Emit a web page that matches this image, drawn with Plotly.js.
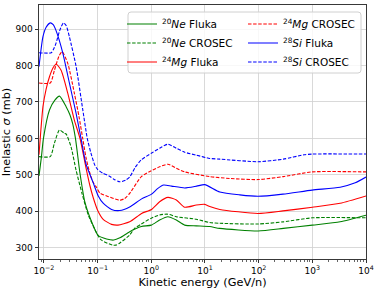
<!DOCTYPE html>
<html>
<head>
<meta charset="utf-8">
<script src="https://cdn.plot.ly/plotly-3.0.1.min.js"></script>
<style>html,body{margin:0;padding:0;background:#fff;}#chart{width:379px;height:295px;}</style>
</head>
<body>
<div id="chart"></div>
<script>
// ---- data (kinetic energy in GeV/n, inelastic cross section in mb) ----
const neFlukaE = [0.0081, 0.009, 0.0098, 0.0127, 0.016, 0.0195, 0.0259, 0.0305, 0.0344, 0.0387, 0.0469, 0.058, 0.078, 0.103, 0.147, 0.2, 0.26, 0.396, 0.653, 1.0, 1.43, 2.04, 2.93, 4.2, 6.9, 12.3, 18.9, 98, 288, 1000, 3300, 10000];
const neFlukaS = [497, 550, 600, 678, 705, 716, 687, 665, 640, 600, 505, 425, 370, 333, 324, 321, 327, 344, 358, 362, 376, 385, 376, 362, 360, 358, 353, 346, 353, 362, 371, 389];

const neCrosecE = [0.0081, 0.0131, 0.0157, 0.0195, 0.024, 0.0259, 0.032, 0.0397, 0.051, 0.067, 0.089, 0.115, 0.19, 0.22, 0.26, 0.396, 0.49, 0.653, 1.0, 1.43, 2.04, 2.93, 6.9, 12.3, 18.9, 98, 288, 1000, 10000];
const neCrosecS = [550, 550, 587, 623, 614, 612, 577, 513, 450, 390, 350, 322, 307, 307, 313, 335, 353, 365, 381, 390, 392, 385, 378, 369, 367, 365, 371, 382, 382];

const mgFlukaE = [0.0081, 0.0088, 0.0096, 0.011, 0.0127, 0.015, 0.0169, 0.0209, 0.0278, 0.0369, 0.047, 0.0607, 0.072, 0.083, 0.1, 0.127, 0.182, 0.24, 0.396, 0.66, 1.01, 1.43, 2.04, 2.93, 4.2, 6.9, 9.9, 12.3, 18.9, 97, 284, 1000, 3300, 10000];
const mgFlukaS = [555, 625, 687, 735, 769, 795, 804, 787, 724, 650, 600, 520, 470, 437, 403, 378, 364, 362, 371, 394, 405, 426, 438, 431, 411, 417, 419, 413, 405, 394, 401, 411, 422, 442];

const mgCrosecE = [0.0081, 0.0131, 0.0157, 0.019, 0.0218, 0.0278, 0.0369, 0.045, 0.0528, 0.0607, 0.07, 0.0808, 0.096, 0.11, 0.16, 0.22, 0.26, 0.32, 0.396, 0.653, 1.0, 1.43, 2.04, 2.93, 4.2, 12.3, 29, 98, 288, 1000, 10000];
const mgCrosecS = [752, 752, 787, 825, 838, 806, 724, 660, 600, 548, 510, 482, 465, 450, 440, 433, 430, 435, 449, 495, 511, 522, 529, 518, 508, 495, 490, 487, 495, 508, 508];

const siFlukaE = [0.0081, 0.0096, 0.011, 0.0131, 0.0149, 0.0169, 0.0225, 0.0298, 0.0397, 0.049, 0.0607, 0.083, 0.103, 0.127, 0.182, 0.259, 0.396, 0.66, 1.01, 1.31, 1.70, 2.39, 4.19, 7.0, 9.9, 18.9, 44.7, 97, 284, 991, 3300, 6300, 10000];
const siFlukaS = [797, 879, 905, 917, 912, 895, 834, 752, 669, 601, 530, 478, 442, 422, 405, 402, 412, 434, 447, 462, 472, 469, 464, 469, 473, 453, 445, 441, 447, 458, 466, 478, 494];

const siCrosecE = [0.0081, 0.0137, 0.0155, 0.0169, 0.0196, 0.0231, 0.0259, 0.0298, 0.0397, 0.0528, 0.0642, 0.075, 0.088, 0.1, 0.124, 0.164, 0.2, 0.26, 0.33, 0.4, 0.5, 0.65, 1.0, 1.43, 2.04, 2.93, 4.2, 6.9, 12.3, 19, 98, 288, 700, 1000, 10000];
const siCrosecS = [835, 835, 848, 862, 895, 917, 910, 879, 798, 680, 600, 560, 528, 515, 505, 497, 488, 481, 485, 495, 520, 541, 559, 573, 584, 573, 562, 554, 545, 543, 536, 543, 555, 557, 557];

const seriesNames = ['<sup>20</sup><i>Ne</i> Fluka', '<sup>20</sup><i>Ne</i> CROSEC', '<sup>24</sup><i>Mg</i> Fluka',
                     '<sup>24</sup><i>Mg</i> CROSEC', '<sup>28</sup><i>Si</i> Fluka', '<sup>28</sup><i>Si</i> CROSEC'];
const xTickVals = [0.01, 0.1, 1, 10, 100, 1000, 10000];
const xTickText = ['10<sup>\u22122</sup>', '10<sup>\u22121</sup>', '10<sup>0</sup>', '10<sup>1</sup>', '10<sup>2</sup>', '10<sup>3</sup>', '10<sup>4</sup>'];

// ---- styling ----
const FONT = 'DejaVu Sans';
const GREEN = '#008000', RED = '#ff0000', BLUE = '#0000ff';
const DASH = '3.5px,1.6px';
function tr(x, y, name, color, dash, legend) {
  return {x: x, y: y, name: name, type: 'scatter', mode: 'lines',
          line: {color: color, width: 1.1, dash: dash, shape: 'spline', smoothing: 0.6},
          legend: legend, hoverinfo: 'skip'};
}
const data = [
  tr(neFlukaE, neFlukaS, seriesNames[0], GREEN, 'solid', 'legend'),
  tr(neCrosecE, neCrosecS, seriesNames[1], GREEN, DASH, 'legend'),
  tr(mgFlukaE, mgFlukaS, seriesNames[2], RED, 'solid', 'legend'),
  tr(mgCrosecE, mgCrosecS, seriesNames[3], RED, DASH, 'legend2'),
  tr(siFlukaE, siFlukaS, seriesNames[4], BLUE, 'solid', 'legend2'),
  tr(siCrosecE, siCrosecS, seriesNames[5], BLUE, DASH, 'legend2')
];

// minor tick positions 2..9 within each decade
const minorVals = [];
for (let d = -3; d < 4; d++) for (let m = 2; m <= 9; m++) minorVals.push(m * Math.pow(10, d));

const allE = [].concat(neFlukaE, neCrosecE, mgFlukaE, mgCrosecE, siFlukaE, siCrosecE);
const xmin = Math.log10(Math.min.apply(null, allE));

const L = 39, R = 13, T = 5, B = 36, W = 379, H = 295;
const pw = W - L - R, ph = H - T - B;
function px2x(p) { return (p - L) / pw; }
function px2y(p) { return 1 - (p - T) / ph; }
// rounded legend frame
const bx0 = px2x(128), bx1 = px2x(361), by1 = px2y(12), by0 = px2y(73);
const rx = 3 / pw, ry = 3 / ph;
const framePath = `M ${bx0 + rx},${by1} L ${bx1 - rx},${by1} Q ${bx1},${by1} ${bx1},${by1 - ry} L ${bx1},${by0 + ry} Q ${bx1},${by0} ${bx1 - rx},${by0} L ${bx0 + rx},${by0} Q ${bx0},${by0} ${bx0},${by0 + ry} L ${bx0},${by1 - ry} Q ${bx0},${by1} ${bx0 + rx},${by1} Z`;

const legendCommon = {bgcolor: 'rgba(0,0,0,0)', borderwidth: 0, font: {family: FONT, size: 10.5, color: '#000'},
                      xanchor: 'left', yanchor: 'top', itemwidth: 30, traceorder: 'normal'};

const layout = {
  width: W, height: H,
  margin: {l: L, r: R, t: T, b: B, pad: 0},
  paper_bgcolor: '#fff', plot_bgcolor: '#fff',
  font: {family: FONT, size: 9, color: '#000'},
  showlegend: true,
  legend: Object.assign({}, legendCommon, {x: px2x(122), y: px2y(9.5)}),
  legend2: Object.assign({}, legendCommon, {x: px2x(243), y: px2y(9.5)}),
  xaxis: {
    type: 'log', range: [xmin, 4],
    tickmode: 'array', tickvals: xTickVals, ticktext: xTickText,
    ticks: 'outside', ticklen: 3.5, tickwidth: 0.8, tickcolor: '#000',
    tickfont: {family: FONT, size: 9, color: '#000'},
    showgrid: true, gridcolor: '#cfcfcf', gridwidth: 0.8,
    showline: true, linecolor: '#222', linewidth: 0.9, mirror: true,
    zeroline: false,
    minor: {tickmode: 'array', tickvals: minorVals, ticks: 'outside', ticklen: 2, tickwidth: 0.6, tickcolor: '#000', showgrid: false},
    title: {text: 'Kinetic energy (GeV/n)', font: {family: FONT, size: 11.3, color: '#000'}, standoff: 2}
  },
  yaxis: {
    range: [269, 966], dtick: 100, tick0: 0,
    ticks: 'outside', ticklen: 3.5, tickwidth: 0.8, tickcolor: '#000',
    tickfont: {family: FONT, size: 9, color: '#000'},
    showgrid: true, gridcolor: '#cfcfcf', gridwidth: 0.8,
    showline: true, linecolor: '#222', linewidth: 0.9, mirror: true,
    zeroline: false,
    title: {text: 'Inelastic <i>\u03c3</i> (mb)', font: {family: FONT, size: 11.3, color: '#000'}, standoff: 4}
  },
  shapes: [{type: 'path', xref: 'paper', yref: 'paper', path: framePath,
            fillcolor: 'rgba(255,255,255,0.8)', line: {color: '#d0d0d0', width: 1}, layer: 'above'}]
};

Plotly.newPlot('chart', data, layout, {displayModeBar: false, staticPlot: true});
</script>
</body>
</html>
